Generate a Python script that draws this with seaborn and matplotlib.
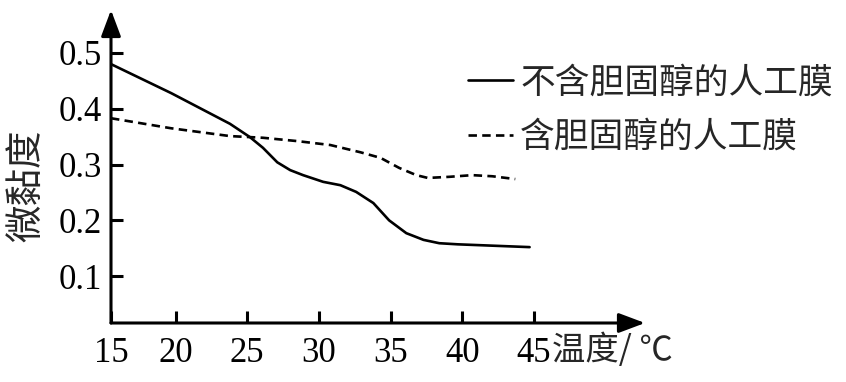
"""
微黏度 vs 温度: artificial membranes with / without cholesterol
"""

import pandas as pd
import matplotlib.pyplot as plt
import seaborn as sns

# ── data ─────────────────────────────────────────────────────────────────────
temp_no_chol = [15.5, 19.7, 23.8, 25.2, 26.1, 27.1, 28.0, 28.9, 30.3, 31.5,
                32.6, 33.8, 34.9, 36.1, 37.3, 38.4, 39.7, 44.7]
visc_no_chol = [0.480, 0.428, 0.373, 0.349, 0.330, 0.304, 0.290, 0.281, 0.269,
                0.263, 0.251, 0.231, 0.200, 0.177, 0.165, 0.159, 0.157, 0.152]

temp_chol = [15.5, 19.7, 23.8, 26.1, 28.5, 30.8, 32.9, 34.3, 35.6, 36.8, 37.6,
             39.1, 40.7, 42.1, 43.7]
visc_chol = [0.383, 0.365, 0.351, 0.348, 0.342, 0.335, 0.322, 0.312, 0.294,
             0.281, 0.276, 0.278, 0.281, 0.279, 0.274]

LABEL_NO = "不含胆固醇的人工膜"
LABEL_CH = "含胆固醇的人工膜"
X_TICKS = [15.5, 20, 25, 30, 35, 40, 45]   # axis origin is labelled 15
X_LABELS = ["15", "20", "25", "30", "35", "40", "45"]
Y_TICKS = [0.1, 0.2, 0.3, 0.4, 0.5]
Y_LABELS = ["0.1", "0.2", "0.3", "0.4", "0.5"]

df_no = pd.DataFrame({"temp": temp_no_chol, "visc": visc_no_chol})
df_ch = pd.DataFrame({"temp": temp_chol, "visc": visc_chol})

# ── style ────────────────────────────────────────────────────────────────────
sns.set_style("white")
CJK = ["Noto Sans CJK SC", "DejaVu Sans"]
plt.rcParams["font.family"] = CJK
plt.rcParams["lines.solid_joinstyle"] = "round"
SERIF = "Liberation Serif"

fig = plt.figure(figsize=(8.46, 3.82), dpi=100)
ax = fig.add_axes([111 / 846, 59 / 382, 534 / 846, 313 / 382])

sns.lineplot(data=df_no, x="temp", y="visc", ax=ax, color="black",
             linewidth=1.9, label=LABEL_NO)
sns.lineplot(data=df_ch, x="temp", y="visc", ax=ax, color="black",
             linewidth=1.9, linestyle=(0, (3.2, 2.0)), label=LABEL_CH)

ax.set_xlim(15.5, 52.75)
ax.set_ylim(0.016, 0.577)

# axes drawn as arrows
for s in ax.spines.values():
    s.set_visible(False)
arrow = dict(arrowstyle="-|>,head_length=1.6,head_width=0.6", lw=2.2,
             color="black", shrinkA=0, shrinkB=0)
ax.annotate("", xy=(0, 1), xytext=(0, 0), xycoords="axes fraction", arrowprops=arrow)
ax.annotate("", xy=(1, 0), xytext=(0, 0), xycoords="axes fraction", arrowprops=arrow)

ax.set_xticks(X_TICKS, X_LABELS)
ax.set_yticks(Y_TICKS, Y_LABELS)
ax.tick_params(axis="both", direction="in", length=8.3, width=2.2, color="black",
               labelsize=25, labelcolor="black", left=True, bottom=True)
ax.tick_params(axis="y", pad=6.5)
ax.tick_params(axis="x", pad=10)
for lab in ax.get_xticklabels() + ax.get_yticklabels():
    lab.set_fontfamily(SERIF)

ax.set_xlabel("")
ax.set_ylabel("")
fig.text(27 / 846, 1 - 186 / 382, "微黏度", rotation=90, ha="center", va="center",
         fontsize=27)
fig.text(552 / 846, 1 - 350 / 382, "温度/ ℃", ha="left", va="center", fontsize=24)

ax.legend(loc="upper left", bbox_to_anchor=(468 / 846, 0.829),
          bbox_transform=fig.transFigure, frameon=False, fontsize=25,
          handlelength=1.3, handletextpad=0.2, labelspacing=0.56,
          borderpad=0, borderaxespad=0)

fig.savefig("out.png", dpi=100)
